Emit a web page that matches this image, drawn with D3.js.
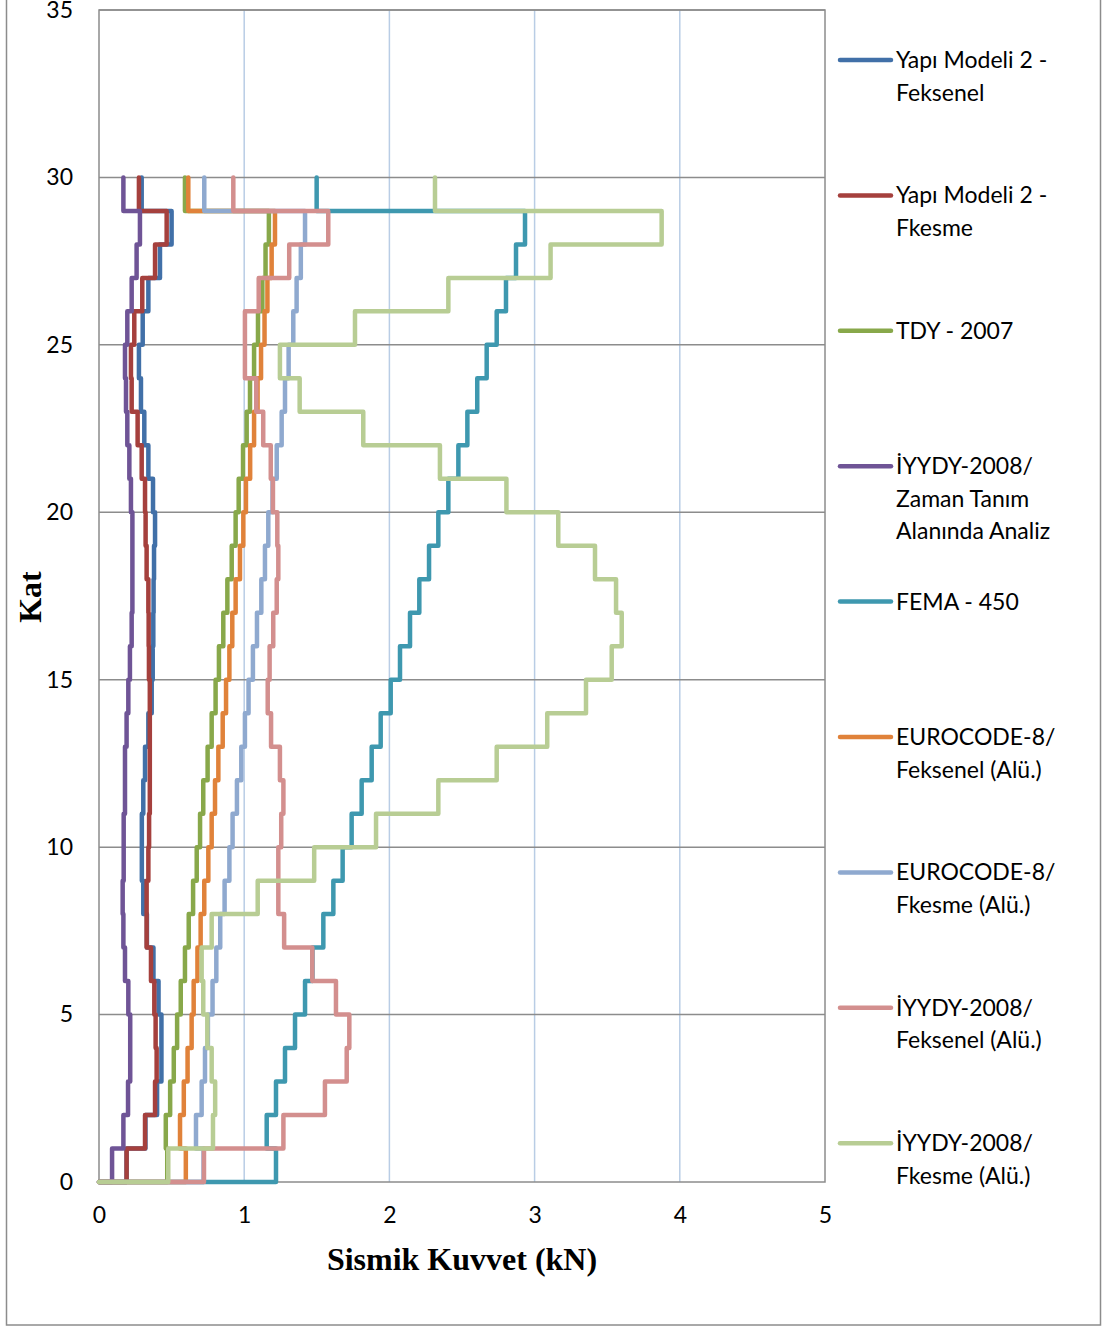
<!DOCTYPE html>
<html>
<head>
<meta charset="utf-8">
<script src="https://cdn.jsdelivr.net/npm/d3@7"></script>
<style>
  body { margin: 0; background: #fff; }
  .tick text { font-family: Lato, "Open Sans", sans-serif; font-size: 23px; fill: #000; }
  .legend text { font-family: Lato, "Open Sans", sans-serif; font-size: 23px; fill: #000; }
  .axis-title { font-family: "Liberation Serif", "DejaVu Serif", serif; font-weight: bold; font-size: 32px; }
</style>
</head>
<body>
<div id="chart"></div>
<script>
// floors 1..30, one value per floor (kN)
const floors = d3.range(1, 31);
const xTicks = [0, 1, 2, 3, 4, 5];
const yTicks = [0, 5, 10, 15, 20, 25, 30, 35];

const yapi2Feksenel = [0.19, 0.32, 0.40, 0.43, 0.43, 0.41, 0.375, 0.33, 0.305, 0.295,
  0.295, 0.305, 0.317, 0.34, 0.363, 0.37, 0.374, 0.376, 0.379, 0.386,
  0.372, 0.34, 0.312, 0.289, 0.275, 0.301, 0.34, 0.42, 0.50, 0.294];
const yapi2Fkesme = [0.19, 0.317, 0.386, 0.397, 0.39, 0.381, 0.358, 0.328, 0.328, 0.34,
  0.345, 0.35, 0.35, 0.35, 0.35, 0.344, 0.342, 0.34, 0.328, 0.321,
  0.317, 0.294, 0.266, 0.225, 0.22, 0.243, 0.298, 0.386, 0.466, 0.275];
const tdy2007 = [0.47, 0.46, 0.49, 0.515, 0.538, 0.563, 0.592, 0.618, 0.648, 0.673,
  0.696, 0.718, 0.748, 0.776, 0.803, 0.826, 0.856, 0.884, 0.914, 0.941,
  0.962, 0.992, 1.017, 1.04, 1.068, 1.095, 1.125, 1.147, 1.17, 0.592];
const iyydyZaman = [0.09, 0.168, 0.20, 0.215, 0.215, 0.202, 0.179, 0.168, 0.163, 0.17,
  0.17, 0.179, 0.179, 0.19, 0.202, 0.213, 0.225, 0.23, 0.23, 0.23,
  0.22, 0.209, 0.195, 0.186, 0.179, 0.195, 0.225, 0.259, 0.282, 0.168];
const fema450 = [1.219, 1.155, 1.219, 1.281, 1.35, 1.419, 1.47, 1.545, 1.614, 1.678,
  1.74, 1.809, 1.878, 1.94, 2.009, 2.073, 2.142, 2.206, 2.273, 2.337,
  2.406, 2.475, 2.537, 2.605, 2.67, 2.739, 2.803, 2.872, 2.934, 1.499];
const ec8Feksenel = [0.598, 0.558, 0.584, 0.61, 0.638, 0.652, 0.678, 0.70, 0.725, 0.753,
  0.776, 0.799, 0.822, 0.852, 0.875, 0.898, 0.918, 0.941, 0.971, 0.994,
  1.012, 1.041, 1.068, 1.092, 1.116, 1.14, 1.16, 1.189, 1.212, 0.615];
const ec8Fkesme = [0.72, 0.668, 0.707, 0.73, 0.75, 0.782, 0.808, 0.835, 0.865, 0.898,
  0.92, 0.95, 0.98, 1.005, 1.03, 1.06, 1.088, 1.118, 1.143, 1.166,
  1.195, 1.224, 1.258, 1.281, 1.306, 1.338, 1.361, 1.39, 1.419, 0.725];
const iyydyFeksenel = [0.723, 1.27, 1.556, 1.706, 1.724, 1.632, 1.469, 1.275, 1.235, 1.235,
  1.255, 1.27, 1.246, 1.185, 1.162, 1.175, 1.2, 1.224, 1.235, 1.228,
  1.198, 1.183, 1.131, 1.083, 1.005, 1.005, 1.1, 1.31, 1.579, 0.925];
const iyydyFkesme = [0.477, 0.785, 0.80, 0.776, 0.746, 0.718, 0.707, 0.776, 1.093, 1.482,
  1.908, 2.337, 2.739, 3.087, 3.354, 3.531, 3.60, 3.561, 3.416, 3.163,
  2.806, 2.348, 1.82, 1.382, 1.246, 1.763, 2.406, 3.11, 3.875, 2.314];

const seriesNames = [
  ["Yapı Modeli 2 -", "Feksenel"],
  ["Yapı Modeli 2 -", "Fkesme"],
  ["TDY - 2007"],
  ["İYYDY-2008/", "Zaman Tanım", "Alanında Analiz"],
  ["FEMA - 450"],
  ["EUROCODE-8/", "Feksenel (Alü.)"],
  ["EUROCODE-8/", "Fkesme (Alü.)"],
  ["İYYDY-2008/", "Feksenel (Alü.)"],
  ["İYYDY-2008/", "Fkesme (Alü.)"]
];
const seriesValues = [yapi2Feksenel, yapi2Fkesme, tdy2007, iyydyZaman, fema450,
  ec8Feksenel, ec8Fkesme, iyydyFeksenel, iyydyFkesme];
const seriesColors = ["#4170A8", "#A5403D", "#88A84A", "#6F5496", "#3E98AF",
  "#E0823A", "#8FA9CF", "#D38F8E", "#B8CD94"];

const width = 1103, height = 1326;
const plot = { left: 99, right: 825, top: 10, bottom: 1182 };

const svg = d3.select("#chart").append("svg")
  .attr("width", width)
  .attr("height", height);

svg.append("rect")
  .attr("x", 6.5).attr("y", -10)
  .attr("width", 1094).attr("height", 1335)
  .attr("fill", "#fff").attr("stroke", "#8c8c8c").attr("stroke-width", 1.5);

const x = d3.scaleLinear().domain([0, 5]).range([plot.left, plot.right]);
const y = d3.scaleLinear().domain([0, 35]).range([plot.bottom, plot.top]);

// grid
svg.append("g").selectAll("line")
  .data(xTicks.slice(1, -1))
  .join("line")
  .attr("x1", d => x(d)).attr("x2", d => x(d))
  .attr("y1", plot.top).attr("y2", plot.bottom)
  .attr("stroke", "#b9cde5").attr("stroke-width", 1.5);

svg.append("g").selectAll("line")
  .data(yTicks.slice(1))
  .join("line")
  .attr("x1", plot.left).attr("x2", plot.right)
  .attr("y1", d => y(d)).attr("y2", d => y(d))
  .attr("stroke", "#8c8c8c").attr("stroke-width", 1.5);

// plot border
svg.append("rect")
  .attr("x", plot.left).attr("y", plot.top)
  .attr("width", plot.right - plot.left).attr("height", plot.bottom - plot.top)
  .attr("fill", "none").attr("stroke", "#8c8c8c").attr("stroke-width", 1.5);

// axes
const xAxis = svg.append("g")
  .attr("transform", `translate(0,${plot.bottom})`)
  .call(d3.axisBottom(x).tickValues(xTicks).tickSize(0).tickPadding(25).tickFormat(d3.format("d")));
xAxis.select(".domain").remove();

const yAxis = svg.append("g")
  .attr("transform", `translate(${plot.left},0)`)
  .call(d3.axisLeft(y).tickValues(yTicks).tickSize(0).tickPadding(26).tickFormat(d3.format("d")));
yAxis.select(".domain").remove();

// step lines: each floor i holds its value between level i-1 and i
const stepLine = d3.line().x(d => x(d[0])).y(d => y(d[1]));
function stepPoints(values) {
  const pts = [[0, 0]];
  values.forEach((v, i) => {
    pts.push([v, floors[i] - 1]);
    pts.push([v, floors[i]]);
  });
  return pts;
}

svg.append("g").selectAll("path")
  .data(seriesValues)
  .join("path")
  .attr("d", d => stepLine(stepPoints(d)))
  .attr("fill", "none")
  .attr("stroke", (d, i) => seriesColors[i])
  .attr("stroke-width", 4.5)
  .attr("stroke-linejoin", "round")
  .attr("stroke-linecap", "round");

// axis titles
svg.append("text")
  .attr("class", "axis-title")
  .attr("x", (plot.left + plot.right) / 2)
  .attr("y", 1270)
  .attr("text-anchor", "middle")
  .text("Sismik Kuvvet (kN)");

svg.append("text")
  .attr("class", "axis-title")
  .attr("transform", "translate(41,597) rotate(-90)")
  .attr("text-anchor", "middle")
  .text("Kat");

// legend
const legend = svg.append("g").attr("class", "legend");
const legendTop = 60, legendStep = 135.4, lineHeight = 32.5;
seriesNames.forEach((lines, i) => {
  const ly = legendTop + i * legendStep;
  legend.append("line")
    .attr("x1", 840).attr("x2", 891)
    .attr("y1", ly).attr("y2", ly)
    .attr("stroke", seriesColors[i])
    .attr("stroke-width", 4.5)
    .attr("stroke-linecap", "round");
  lines.forEach((t, j) => {
    legend.append("text")
      .attr("x", 896)
      .attr("y", ly + j * lineHeight + 8)
      .text(t);
  });
});
</script>
</body>
</html>
